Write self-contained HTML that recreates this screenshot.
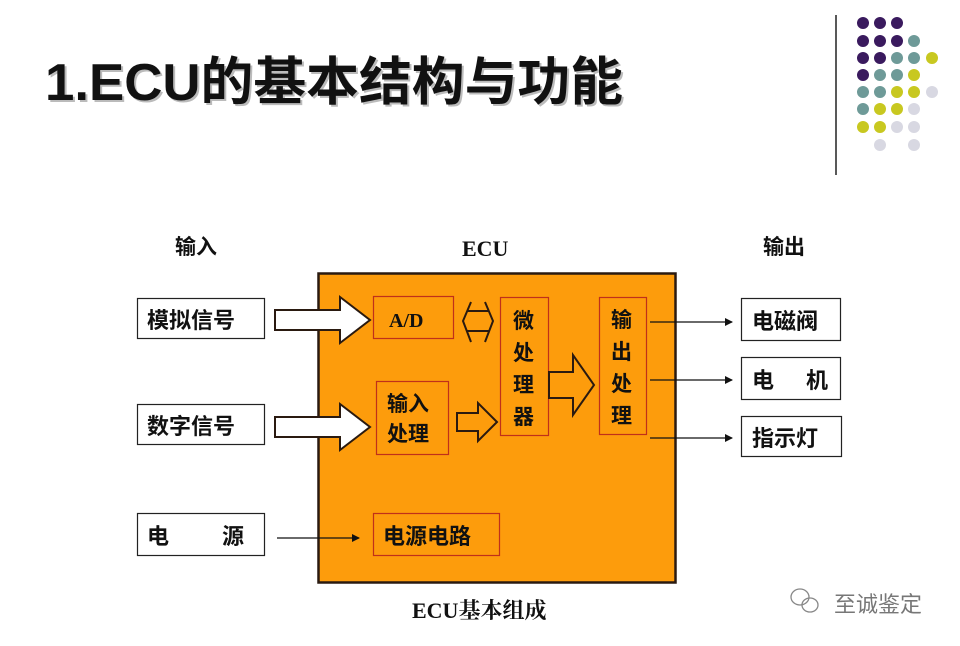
<!DOCTYPE html>
<html><head><meta charset="utf-8"><style>
html,body{margin:0;padding:0;background:#fff;}
svg{display:block;}
text{font-family:"Liberation Sans","Noto Sans CJK SC",sans-serif;font-weight:bold;fill:#111;}
.s{font-family:"Liberation Serif","Noto Serif CJK SC",serif;}
</style></head><body>
<svg width="960" height="646" viewBox="0 0 960 646" xmlns="http://www.w3.org/2000/svg">
<defs>
<marker id="ar" markerWidth="8" markerHeight="8" refX="7" refY="4" orient="auto" markerUnits="userSpaceOnUse"><path d="M0,0 L8,4 L0,8 z" fill="#111"/></marker>
</defs>
<text x="47" y="102" font-size="52" fill="#bbb" style="fill:#bbb" textLength="578" lengthAdjust="spacingAndGlyphs">1.ECU的基本结构与功能</text>
<text x="45" y="100" font-size="52" textLength="578" lengthAdjust="spacingAndGlyphs">1.ECU的基本结构与功能</text>
<line x1="836" y1="15" x2="836" y2="175" stroke="#222" stroke-width="1.5"/>
<g>
<circle cx="863" cy="23" r="6" fill="#3a1a5e"/><circle cx="880" cy="23" r="6" fill="#3a1a5e"/><circle cx="897" cy="23" r="6" fill="#3a1a5e"/>
<circle cx="863" cy="41" r="6" fill="#3a1a5e"/><circle cx="880" cy="41" r="6" fill="#3a1a5e"/><circle cx="897" cy="41" r="6" fill="#3a1a5e"/><circle cx="914" cy="41" r="6" fill="#6e9a98"/>
<circle cx="863" cy="58" r="6" fill="#3a1a5e"/><circle cx="880" cy="58" r="6" fill="#3a1a5e"/><circle cx="897" cy="58" r="6" fill="#6e9a98"/><circle cx="914" cy="58" r="6" fill="#6e9a98"/><circle cx="932" cy="58" r="6" fill="#c8c820"/>
<circle cx="863" cy="75" r="6" fill="#3a1a5e"/><circle cx="880" cy="75" r="6" fill="#6e9a98"/><circle cx="897" cy="75" r="6" fill="#6e9a98"/><circle cx="914" cy="75" r="6" fill="#c8c820"/>
<circle cx="863" cy="92" r="6" fill="#6e9a98"/><circle cx="880" cy="92" r="6" fill="#6e9a98"/><circle cx="897" cy="92" r="6" fill="#c8c820"/><circle cx="914" cy="92" r="6" fill="#c8c820"/><circle cx="932" cy="92" r="6" fill="#d8d8e2"/>
<circle cx="863" cy="109" r="6" fill="#6e9a98"/><circle cx="880" cy="109" r="6" fill="#c8c820"/><circle cx="897" cy="109" r="6" fill="#c8c820"/><circle cx="914" cy="109" r="6" fill="#d8d8e2"/>
<circle cx="863" cy="127" r="6" fill="#c8c820"/><circle cx="880" cy="127" r="6" fill="#c8c820"/><circle cx="897" cy="127" r="6" fill="#d8d8e2"/><circle cx="914" cy="127" r="6" fill="#d8d8e2"/>
<circle cx="880" cy="145" r="6" fill="#d8d8e2"/><circle cx="914" cy="145" r="6" fill="#d8d8e2"/>
</g>
<text x="175" y="254" font-size="21">输入</text>
<text x="462" y="256" font-size="22" class="s">ECU</text>
<text x="763" y="254" font-size="21">输出</text>
<rect x="318.5" y="273.5" width="357" height="309" fill="#fd9c0c" stroke="#2a1a10" stroke-width="2.5"/>
<g fill="none" stroke="#222" stroke-width="1.2">
<rect x="137.5" y="298.5" width="127" height="40"/>
<rect x="137.5" y="404.5" width="127" height="40"/>
<rect x="137.5" y="513.5" width="127" height="42"/>
<rect x="741.5" y="298.5" width="99" height="42"/>
<rect x="741.5" y="357.5" width="99" height="42"/>
<rect x="741.5" y="416.5" width="100" height="40"/>
</g>
<g fill="none" stroke="#c0301a" stroke-width="1.2">
<rect x="373.5" y="296.5" width="80" height="42"/>
<rect x="500.5" y="297.5" width="48" height="138"/>
<rect x="376.5" y="381.5" width="72" height="73"/>
<rect x="599.5" y="297.5" width="47" height="137"/>
<rect x="373.5" y="513.5" width="126" height="42"/>
</g>
<g fill="none" stroke="#2a1a10" stroke-width="2">
<path d="M275,310 H340 V297 L370,320 L340,343 V330 H275 Z" fill="#fff"/>
<path d="M275,417 H340 V404 L370,427 L340,450 V437 H275 Z" fill="#fff"/>
<path d="M457,413 H478 V403 L497,422 L478,441 V431 H457 Z"/>
<path d="M549,372 H573 V355 L594,385 L573,415 V398 H549 Z"/>
<path d="M471,302 L463,321 L471,342"/>
<path d="M485,302 L493,321 L485,342"/>
<path d="M467,311 H489 M467,331 H489"/>
</g>
<g stroke="#111" stroke-width="1.2">
<line x1="650" y1="322" x2="732" y2="322" marker-end="url(#ar)"/>
<line x1="650" y1="380" x2="732" y2="380" marker-end="url(#ar)"/>
<line x1="650" y1="438" x2="732" y2="438" marker-end="url(#ar)"/>
<line x1="277" y1="538" x2="359" y2="538" marker-end="url(#ar)"/>
</g>
<text x="147" y="328" font-size="22">模拟信号</text>
<text x="147" y="434" font-size="22">数字信号</text>
<text x="147" y="544" font-size="22">电</text><text x="222" y="544" font-size="22">源</text>
<text x="389" y="327" font-size="20" class="s">A/D</text>
<text x="387" y="411" font-size="21">输入</text>
<text x="387" y="441" font-size="21">处理</text>
<text x="513" y="328" font-size="21">微</text>
<text x="513" y="360" font-size="21">处</text>
<text x="513" y="392" font-size="21">理</text>
<text x="513" y="424" font-size="21">器</text>
<text x="611" y="327" font-size="21">输</text>
<text x="611" y="359" font-size="21">出</text>
<text x="611" y="391" font-size="21">处</text>
<text x="611" y="423" font-size="21">理</text>
<text x="383" y="544" font-size="22">电源电路</text>
<text x="752" y="329" font-size="22">电磁阀</text>
<text x="752" y="388" font-size="22">电</text><text x="806" y="388" font-size="22">机</text>
<text x="752" y="446" font-size="22">指示灯</text>
<text x="412" y="618" font-size="22" class="s">ECU基本组成</text>
<g fill="none" stroke="#888" stroke-width="1.3">
<ellipse cx="800" cy="597" rx="9" ry="8"/>
<ellipse cx="810" cy="605" rx="8" ry="7"/>
</g>
<text x="834" y="612" font-size="22" style="fill:#777;font-weight:normal">至诚鉴定</text>
</svg>
</body></html>
